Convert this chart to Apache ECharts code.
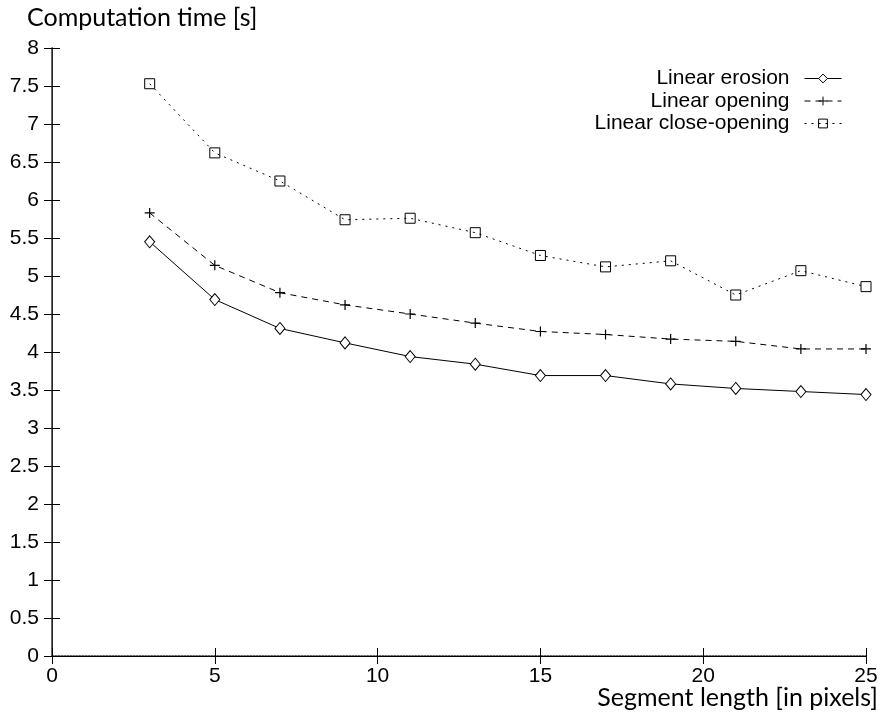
<!DOCTYPE html>
<html>
<head>
<meta charset="utf-8">
<script src="https://cdn.jsdelivr.net/npm/echarts@6/dist/echarts.min.js"></script>
<style>
  html, body { margin: 0; padding: 0; background: #fff; }
  #main { width: 883px; height: 719px; }
</style>
</head>
<body>
<div id="main"></div>
<script>
var chart = echarts.init(document.getElementById("main"));

// segment lengths (x) and timings (y)
var segLength = [3, 5, 7, 9, 11, 13, 15, 17, 19, 21, 23, 25];
var erosion = [5.45, 4.69, 4.31, 4.12, 3.94, 3.84, 3.69, 3.69, 3.58, 3.52, 3.48, 3.44];
var opening = [5.83, 5.14, 4.78, 4.62, 4.50, 4.38, 4.27, 4.23, 4.17, 4.14, 4.04, 4.04];
var closeOpening = [7.53, 6.62, 6.25, 5.74, 5.76, 5.57, 5.27, 5.12, 5.20, 4.75, 5.07, 4.86];
var seriesNames = ["Linear erosion", "Linear opening", "Linear close-opening"];
var xTitle = "Segment length [in pixels]";
var yTitle = "Computation time [s]";

function pairs(ys) {
    var result = [];
    for (var i = 0; i < segLength.length; i++) {
        result.push([segLength[i], ys[i]]);
    }
    return result;
}

var tickFont = { fontFamily: "Liberation Sans", fontSize: 21, color: "#000" };
var titleFont = { fontFamily: "Lato", fontSize: 25, fontWeight: "normal", color: "#000" };
var plusPath = "path://M0,5L10,5M5,0L5,10";

option = {
    animation: false,
    backgroundColor: "#fff",
    title: [
        { text: xTitle, right: 5, top: 685, padding: 0, textStyle: titleFont },
        { text: yTitle, left: 27, top: 5, padding: 0, textStyle: titleFont }
    ],
    grid: { left: 52, right: 17, top: 48, bottom: 63, containLabel: false, outerBoundsMode: "none" },
    legend: {
        orient: "vertical",
        align: "right",
        right: 36,
        top: 63,
        itemWidth: 37,
        itemHeight: 11,
        itemGap: 1.5,
        lineStyle: { width: 1 },
        itemStyle: { borderWidth: 1 },
        textStyle: {
            fontFamily: "Liberation Sans",
            fontSize: 21,
            color: "#000",
            lineHeight: 20,
            padding: [0, 10, 0, 0]
        },
        data: seriesNames
    },
    xAxis: [
        {
            type: "value",
            min: 0, max: 25, interval: 5,
            position: "bottom",
            axisLine: { lineStyle: { color: "#333", type: "dotted", width: 1.5 } },
            axisTick: { inside: true, length: 8, lineStyle: { color: "#000" } },
            axisLabel: Object.assign({ margin: 10 }, tickFont),
            splitLine: { show: false }
        },
        {
            type: "value",
            min: 0, max: 25, interval: 5,
            position: "top",
            axisLine: { lineStyle: { color: "#000" } },
            axisTick: { inside: true, length: 8, lineStyle: { color: "#000" } },
            axisLabel: { show: false },
            splitLine: { show: false }
        }
    ],
    yAxis: [
        {
            type: "value",
            min: 0, max: 8, interval: 0.5,
            position: "left",
            axisLine: { show: true, lineStyle: { color: "#000" } },
            axisTick: { show: true, inside: true, length: 8, lineStyle: { color: "#000" } },
            axisLabel: Object.assign({ margin: 13 }, tickFont),
            splitLine: { show: false }
        },
        {
            type: "value",
            min: 0, max: 8, interval: 0.5,
            position: "right",
            axisLine: { show: true, lineStyle: { color: "#333", width: 1.5 } },
            axisTick: { show: true, inside: true, length: 8, lineStyle: { color: "#000" } },
            axisLabel: { show: false },
            splitLine: { show: false }
        }
    ],
    series: [
        {
            name: seriesNames[0],
            type: "line",
            data: pairs(erosion),
            symbol: "diamond",
            symbolSize: [10, 12],
            lineStyle: { color: "#000", width: 1, type: "solid" },
            itemStyle: { color: "#fff", borderColor: "#000", borderWidth: 1 }
        },
        {
            name: seriesNames[1],
            type: "line",
            data: pairs(opening),
            symbol: plusPath,
            symbolSize: 10,
            lineStyle: { color: "#000", width: 1, type: [6, 5] },
            itemStyle: { color: "#000", borderColor: "#000", borderWidth: 1.2 }
        },
        {
            name: seriesNames[2],
            type: "line",
            data: pairs(closeOpening),
            symbol: "rect",
            symbolSize: 10,
            lineStyle: { color: "#000", width: 1, type: [2, 5] },
            itemStyle: { color: "rgba(255,255,255,0)", borderColor: "#000", borderWidth: 1 }
        }
    ]
};

chart.setOption(option);
</script>
</body>
</html>
